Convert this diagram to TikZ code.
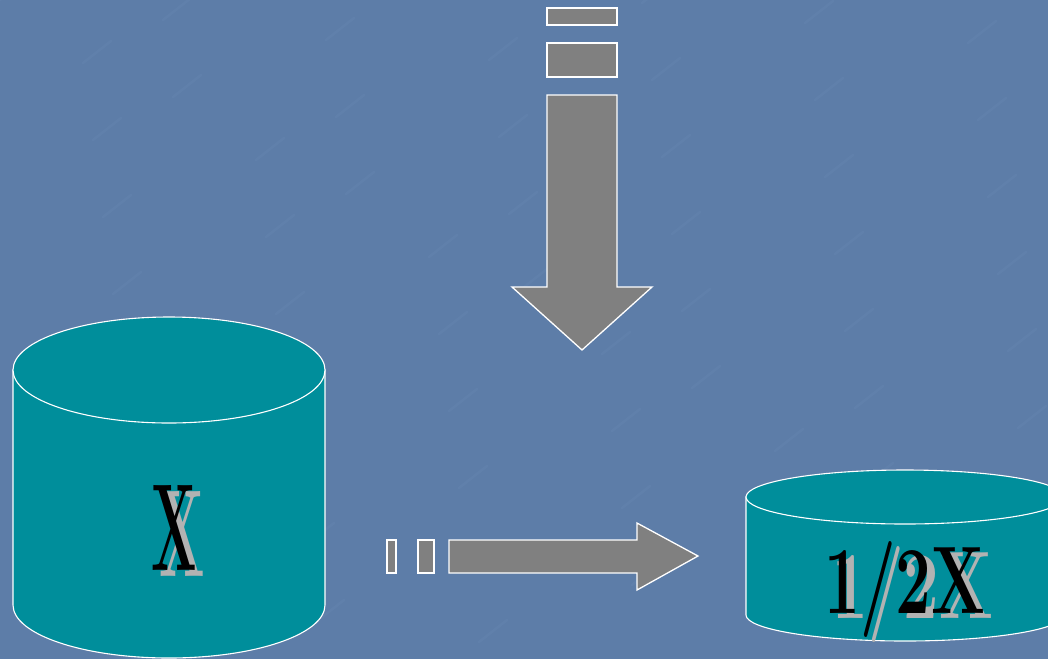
\documentclass[tikz,border=0pt]{standalone}
\usetikzlibrary{calc}
\definecolor{bgblue}{HTML}{5D7DA8}
\definecolor{bgstreak}{HTML}{7090B8}
\definecolor{cylteal}{HTML}{008E9B}
\definecolor{arrowgray}{HTML}{808080}
\definecolor{shadowgray}{HTML}{B2B2B2}
\tikzset{
  cyl/.style={fill=cylteal, draw=white, line width=1.1pt},
  block/.style={fill=arrowgray, draw=white, line width=1.3pt},
  bigtxt/.style={inner sep=0pt, anchor=base, font=\fontsize{124}{124}\selectfont\bfseries, xscale=0.43},
  midtxt/.style={inner sep=0pt, anchor=base, font=\fontsize{96}{96}\selectfont\bfseries, xscale=0.66},
}
\begin{document}
\begin{tikzpicture}[x=1pt,y=-1pt]
\useasboundingbox (0,0) rectangle (1048,659);
\clip (0,0) rectangle (1048,659);
\fill[bgblue] (0,0) rectangle (1048,659);
% faint texture streaks
\foreach \i in {0,...,60}{
  \pgfmathsetmacro{\xa}{mod(\i*173,1048)}
  \pgfmathsetmacro{\ya}{mod(\i*97,659)}
  \draw[bgstreak, opacity=0.2, line width=2.5pt, line cap=round] (\xa,\ya) -- ++(28,-22);
}
% down arrow (bars + shaft + head)
\draw[block] (547,8) rectangle (617,25);
\draw[block] (547,43) rectangle (617,77);
\draw[block] (547,95) -- (617,95) -- (617,287) -- (652,287) -- (582,350) -- (512,287) -- (547,287) -- cycle;
% right arrow
\draw[block] (387,540) rectangle (396,573);
\draw[block] (418,540) rectangle (434,573);
\draw[block] (449,540) -- (637,540) -- (637,523) -- (698,556) -- (637,590) -- (637,573) -- (449,573) -- cycle;
% left cylinder
\draw[cyl] (13,370) -- (13,605) arc[start angle=180, end angle=360, x radius=156pt, y radius=53pt] -- (325,370) -- cycle;
\draw[cyl] (169,370) ellipse [x radius=156pt, y radius=53pt];
% right cylinder
\draw[cyl] (746,497) -- (746,615) arc[start angle=180, end angle=360, x radius=159pt, y radius=26pt] -- (1064,497) -- cycle;
\draw[cyl] (905,497) ellipse [x radius=159pt, y radius=27pt];
% texts with shadow
\node[bigtxt, text=shadowgray] (xs) at (182,576) {X};
\node[bigtxt, text=black] (x) at (174,570) {X};
\node[midtxt, text=shadowgray] (hs) at (913,618) {1/2X};
\node[midtxt, text=black] (h) at (905,613) {1/2X};
\end{tikzpicture}
\end{document}
